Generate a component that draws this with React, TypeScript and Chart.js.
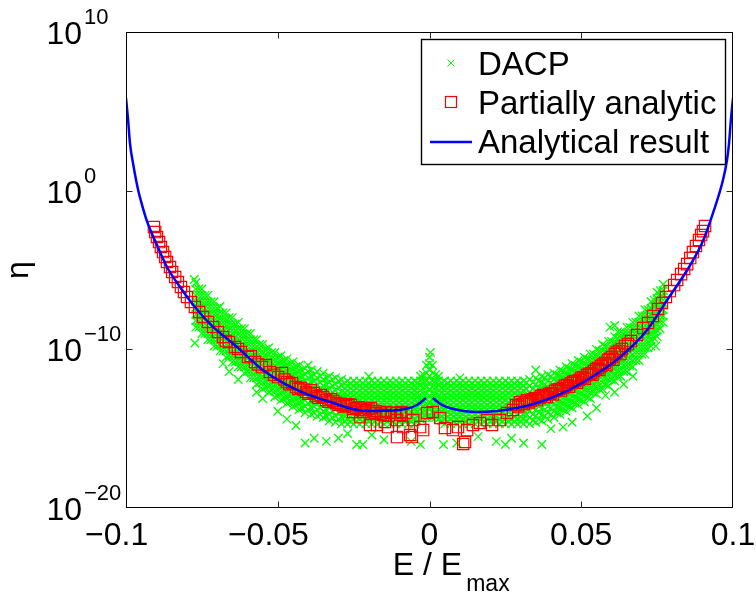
import React, { useEffect, useRef } from "react";
import { Chart, registerables } from "chart.js";

Chart.register(...registerables);

// ---------- axis definitions ----------
const X_TICKS = [-0.1, -0.05, 0, 0.05, 0.1];
const X_TICK_LABELS = ["\u22120.1", "\u22120.05", "0", "0.05", "0.1"];
const Y_TICK_EXPONENTS = [-20, -10, 0, 10];
const X_MIN = -0.1;
const X_MAX = 0.1;
const Y_MIN = 1e-20;
const Y_MAX = 1e10;

const LEGEND_LABELS = ["DACP", "Partially analytic", "Analytical result"];

// ---------- Analytical result (x, log10 eta) ----------
const analyticLeft: [number, number][] = [
  [-0.1, 5.83], [-0.0993, 4.45], [-0.0987, 3.0], [-0.0977, 1.74], [-0.096, 0.04],
  [-0.0947, -0.91], [-0.0931, -1.92], [-0.0898, -3.43], [-0.0865, -4.81],
  [-0.0822, -6.07], [-0.0773, -7.33], [-0.0713, -8.59], [-0.0634, -9.85],
  [-0.0549, -11.3], [-0.0437, -12.56], [-0.0328, -13.32], [-0.0206, -13.89],
  [-0.0097, -13.82], [-0.0041, -13.51], [-0.0012, -13.07],
];
const analyticRight: [number, number][] = [
  [0.0011, -13.07], [0.0041, -13.5], [0.0067, -13.7], [0.0157, -13.95], [0.0288, -13.7],
  [0.0407, -13.01], [0.0519, -11.93], [0.0628, -10.49], [0.0717, -8.78],
  [0.0783, -6.89], [0.0849, -5.0], [0.0898, -3.3], [0.0934, -1.41], [0.0967, 0.67],
  [0.098, 1.9], [0.0987, 3.0], [0.0993, 4.45], [0.1, 5.83],
];

// ---------- Partially analytic (x, log10 eta) ----------
const partialPoints: [number, number][] = [
  [-0.0908, -2.29], [-0.0904, -2.61], [-0.0898, -2.92], [-0.0891, -3.24], [-0.0885, -3.55],
  [-0.0878, -3.87], [-0.0871, -4.18], [-0.0865, -4.5], [-0.0855, -4.81], [-0.0848, -5.13],
  [-0.0838, -5.44], [-0.0829, -5.76], [-0.0819, -6.07], [-0.0809, -6.39], [-0.0799, -6.7],
  [-0.0786, -7.02], [-0.0773, -7.33], [-0.0759, -7.65], [-0.0746, -7.96], [-0.073, -8.28],
  [-0.0713, -8.59], [-0.0697, -8.91], [-0.068, -9.22], [-0.0671, -9.48], [-0.0661, -9.54],
  [-0.0641, -9.85], [-0.0631, -9.98], [-0.0621, -10.17], [-0.0598, -10.49], [-0.0589, -10.42],
  [-0.0575, -10.8], [-0.0565, -10.95], [-0.0552, -11.12], [-0.0539, -10.99], [-0.0526, -11.43],
  [-0.0512, -11.6], [-0.0499, -11.75], [-0.0486, -11.49], [-0.0478, -11.9], [-0.047, -12.06],
  [-0.0462, -12.2], [-0.0453, -12.12], [-0.044, -12.38], [-0.0432, -12.5], [-0.0424, -12.44],
  [-0.0415, -12.55], [-0.0407, -12.69], [-0.0399, -12.8], [-0.0391, -12.56], [-0.0382, -12.75],
  [-0.0374, -12.94], [-0.0366, -13.05], [-0.0358, -12.88], [-0.035, -13.0], [-0.0341, -13.19],
  [-0.0333, -13.3], [-0.0325, -13.13], [-0.0317, -13.25], [-0.0308, -13.38], [-0.03, -13.5],
  [-0.0292, -13.45], [-0.0283, -13.6], [-0.0275, -13.57], [-0.0267, -13.45], [-0.0259, -13.51],
  [-0.025, -13.75], [-0.0242, -13.7], [-0.0234, -13.65], [-0.0226, -13.82], [-0.0218, -13.95],
  [-0.0209, -13.82], [-0.0201, -13.75], [-0.0193, -13.7], [-0.0185, -13.9], [-0.0176, -13.89],
  [-0.016, -14.05], [-0.0143, -13.95], [-0.0127, -14.0], [-0.011, -14.01], [-0.0093, -13.95],
  [-0.0077, -14.01],
  [-0.0252, -13.95], [-0.0229, -14.27], [-0.0196, -14.77], [-0.018, -14.01], [-0.0173, -14.77],
  [-0.0153, -14.14], [-0.0147, -14.58], [-0.0137, -14.9], [-0.0107, -14.46], [-0.0107, -15.53],
  [-0.0097, -14.14], [-0.0087, -14.9], [-0.0064, -15.4], [-0.0058, -15.53], [-0.0054, -14.46],
  [-0.0031, -14.9], [-0.0021, -15.09], [-0.0008, -14.01], [0.0011, -13.95], [0.0035, -14.33],
  [0.0051, -14.96], [0.0077, -15.09], [0.0094, -14.9], [0.0111, -15.97], [0.0117, -15.84],
  [0.0124, -15.09], [0.0143, -14.77], [0.0166, -14.64], [0.019, -14.46], [0.0206, -14.77],
  [0.0232, -14.46], [0.0255, -14.01], [0.0275, -13.82],
  [0.0285, -13.51], [0.0292, -13.6], [0.0298, -13.32], [0.0305, -13.45], [0.0311, -13.45],
  [0.0316, -13.3], [0.0321, -13.19], [0.0328, -13.35], [0.0334, -13.26], [0.0341, -13.15],
  [0.0348, -13.07], [0.0354, -13.2], [0.0361, -13.07], [0.0368, -12.95], [0.0374, -12.88],
  [0.038, -13.0], [0.0387, -13.01], [0.0394, -12.8], [0.04, -12.75], [0.0407, -12.85],
  [0.0414, -12.63], [0.042, -12.55], [0.0427, -12.5], [0.0433, -12.6], [0.044, -12.44],
  [0.0446, -12.3], [0.0453, -12.25], [0.046, -12.35], [0.0466, -12.12], [0.0473, -12.05],
  [0.0479, -12.0], [0.0486, -12.1], [0.0493, -11.93], [0.05, -11.8], [0.0506, -11.75],
  [0.0512, -11.85], [0.0519, -11.62], [0.0526, -11.55], [0.0532, -11.49], [0.0537, -11.6],
  [0.0542, -11.37], [0.0549, -11.25], [0.0555, -11.18], [0.056, -11.3], [0.0565, -11.05],
  [0.0571, -10.95], [0.0578, -10.86], [0.0583, -11.0], [0.0588, -10.67], [0.0594, -10.6],
  [0.0601, -10.49], [0.0606, -10.65], [0.0611, -10.3], [0.0617, -10.2], [0.0624, -10.11],
  [0.0629, -10.3], [0.0634, -9.98], [0.0644, -9.79],
  [0.0654, -9.67], [0.0664, -9.48], [0.0684, -9.1], [0.0704, -8.66], [0.072, -8.34],
  [0.0736, -7.9], [0.0753, -7.46], [0.0766, -7.08], [0.0779, -6.7], [0.0792, -6.33],
  [0.0806, -5.95], [0.0816, -5.63], [0.0829, -5.26], [0.0839, -4.94], [0.0849, -4.63],
  [0.0859, -4.25], [0.0868, -3.87], [0.0878, -3.49], [0.0888, -3.11], [0.0895, -2.8],
  [0.0901, -2.55], [0.0908, -2.23],
];

// ---------- DACP: columns [x, log10 eta values read in that column] ----------
const CA = [-12.0, -12.3, -12.6, -12.9, -13.2, -13.5, -13.8, -14.1, -14.4, -14.7];
const CB = [-12.15, -12.45, -12.75, -13.05, -13.35, -13.65, -13.95, -14.25, -14.55];
const dacpColumns: [number, number[]][] = [
  [-0.077, [-5.8, -6.2, -6.6, -7.0, -7.4, -7.8, -8.2, -8.6]],
  [-0.076, [-6.2, -6.6, -7.0, -7.4, -7.8, -8.2, -8.6]],
  [-0.075, [-6.2, -6.6, -7.0, -7.4, -7.8, -8.2, -8.6, -9.0]],
  [-0.074, [-6.6, -7.0, -7.4, -7.8, -8.2, -8.6, -9.0]],
  [-0.073, [-6.6, -7.0, -7.4, -7.8, -8.2, -8.6, -9.0, -9.4]],
  [-0.072, [-7.0, -7.4, -7.8, -8.2, -8.6, -9.0, -9.4]],
  [-0.071, [-7.0, -7.4, -7.8, -8.2, -8.6, -9.0, -9.4, -9.8]],
  [-0.07, [-7.4, -7.8, -8.2, -8.6, -9.0, -9.4, -9.8]],
  [-0.069, [-7.3, -7.7, -8.1, -8.5, -8.9, -9.3, -9.7, -10.1]],
  [-0.068, [-7.7, -8.1, -8.5, -8.9, -9.3, -9.7, -10.1]],
  [-0.067, [-7.7, -8.1, -8.5, -8.9, -9.3, -9.7, -10.1, -10.5]],
  [-0.066, [-8.0, -8.4, -8.8, -9.2, -9.6, -10.0, -10.4]],
  [-0.065, [-8.0, -8.4, -8.8, -9.2, -9.6, -10.0, -10.4, -10.8]],
  [-0.064, [-8.4, -8.8, -9.2, -9.6, -10.0, -10.4, -10.8]],
  [-0.063, [-8.3, -8.7, -9.1, -9.5, -9.9, -10.3, -10.7, -11.1]],
  [-0.062, [-8.7, -9.1, -9.5, -9.9, -10.3, -10.7, -11.1]],
  [-0.061, [-8.7, -9.1, -9.5, -9.9, -10.3, -10.7, -11.1, -11.5]],
  [-0.06, [-9.0, -9.4, -9.8, -10.2, -10.6, -11.0, -11.4]],
  [-0.059, [-9.0, -9.4, -9.8, -10.2, -10.6, -11.0, -11.4, -11.8]],
  [-0.058, [-9.4, -9.8, -10.2, -10.6, -11.0, -11.4, -11.8]],
  [-0.057, [-9.4, -9.8, -10.2, -10.6, -11.0, -11.4, -11.8, -12.2]],
  [-0.056, [-9.7, -10.1, -10.5, -10.9, -11.3, -11.7, -12.1]],
  [-0.055, [-9.7, -10.1, -10.5, -10.9, -11.3, -11.7, -12.1, -12.5]],
  [-0.054, [-10.0, -10.4, -10.8, -11.2, -11.6, -12.0, -12.4]],
  [-0.053, [-9.9, -10.3, -10.7, -11.1, -11.5, -11.9, -12.3, -12.7]],
  [-0.052, [-10.2, -10.6, -11.0, -11.4, -11.8, -12.2, -12.6]],
  [-0.051, [-10.2, -10.6, -11.0, -11.4, -11.8, -12.2, -12.6, -13.0]],
  [-0.05, [-10.5, -10.9, -11.3, -11.7, -12.1, -12.5, -12.9]],
  [-0.049, [-10.4, -10.8, -11.2, -11.6, -12.0, -12.4, -12.8, -13.2]],
  [-0.048, [-10.7, -11.1, -11.5, -11.9, -12.3, -12.7, -13.1]],
  [-0.047, [-10.6, -11.0, -11.4, -11.8, -12.2, -12.6, -13.0, -13.4]],
  [-0.046, [-10.9, -11.3, -11.7, -12.1, -12.5, -12.9, -13.3]],
  [-0.045, [-10.8, -11.2, -11.6, -12.0, -12.4, -12.8, -13.2, -13.6]],
  [-0.044, [-11.1, -11.5, -11.9, -12.3, -12.7, -13.1, -13.5]],
  [-0.043, [-11.0, -11.4, -11.8, -12.2, -12.6, -13.0, -13.4, -13.8]],
  [-0.042, [-11.3, -11.7, -12.1, -12.5, -12.9, -13.3, -13.7]],
  [-0.041, [-11.2, -11.6, -12.0, -12.4, -12.8, -13.2, -13.6, -14.0]],
  [-0.04, [-11.4, -11.8, -12.2, -12.6, -13.0, -13.4, -13.8]],
  [-0.039, [-11.3, -11.7, -12.1, -12.5, -12.9, -13.3, -13.7, -14.1]],
  [-0.038, [-11.6, -12.0, -12.4, -12.8, -13.2, -13.6, -14.0]],
  [-0.037, [-11.4, -11.8, -12.2, -12.6, -13.0, -13.4, -13.8, -14.2]],
  [-0.036, [-11.7, -12.1, -12.5, -12.9, -13.3, -13.7, -14.1]],
  [-0.035, [-11.5, -11.9, -12.3, -12.7, -13.1, -13.5, -13.9, -14.3]],
  [-0.034, [-11.8, -12.2, -12.6, -13.0, -13.4, -13.8, -14.2]],
  [-0.033, [-11.7, -12.1, -12.5, -12.9, -13.3, -13.7, -14.1, -14.5]],
  [-0.032, [-11.9, -12.3, -12.7, -13.1, -13.5, -13.9, -14.3]],
  [-0.031, [-11.8, -12.2, -12.6, -13.0, -13.4, -13.8, -14.2, -14.6]],
  [-0.03, [-12.0, -12.4, -12.8, -13.2, -13.6, -14.0, -14.4]],
  [-0.029, [-11.9, -12.3, -12.7, -13.1, -13.5, -13.9, -14.3, -14.7]],
  [-0.028, CB], [-0.027, CA], [-0.026, CB], [-0.025, CA], [-0.024, CB], [-0.023, CA],
  [-0.022, CB], [-0.021, CA], [-0.02, CB], [-0.019, CA], [-0.018, CB], [-0.017, CA],
  [-0.016, CB], [-0.015, CA], [-0.014, CB], [-0.013, CA], [-0.012, CB], [-0.011, CA],
  [-0.01, CB], [-0.009, CA], [-0.008, CB], [-0.007, CA], [-0.006, CB], [-0.005, CA],
  [-0.004, [-12.1, -12.4, -12.7, -13.0, -13.3, -13.6, -13.9, -14.2, -14.5]],
  [-0.003, [-11.7, -12.0, -12.3, -12.6, -12.9, -13.2, -13.5, -13.8, -14.1, -14.4]],
  [-0.002, [-11.6, -12.0, -12.4, -12.8, -13.2, -13.6, -14.0, -14.3]],
  [-0.001, [-11.0, -11.5, -12.0, -12.4, -12.8, -13.2, -13.6, -14.0, -14.3]],
  [0, [-10.5, -10.9, -11.3, -11.7, -12.1, -12.5, -12.9, -13.3, -13.7, -14.1]],
  [0.001, [-11.0, -11.5, -12.0, -12.4, -12.8, -13.2, -13.6, -14.0, -14.3]],
  [0.002, [-11.6, -12.0, -12.4, -12.8, -13.2, -13.6, -14.0, -14.3]],
  [0.003, [-11.7, -12.0, -12.3, -12.6, -12.9, -13.2, -13.5, -13.8, -14.1, -14.4]],
  [0.004, [-12.1, -12.4, -12.7, -13.0, -13.3, -13.6, -13.9, -14.2, -14.5]],
  [0.005, CA], [0.006, CB], [0.007, CA], [0.008, CB], [0.009, CA], [0.01, CB],
  [0.011, CA], [0.012, CB], [0.013, CA], [0.014, CB], [0.015, CA], [0.016, CB],
  [0.017, CA], [0.018, CB], [0.019, CA], [0.02, CB], [0.021, CA], [0.022, CB],
  [0.023, CA], [0.024, CB], [0.025, CA], [0.026, CB], [0.027, CA], [0.028, CB],
  [0.029, CA], [0.03, CB], [0.031, CA],
  [0.032, [-12.1, -12.5, -12.9, -13.3, -13.7, -14.1, -14.5]],
  [0.033, [-11.9, -12.3, -12.7, -13.1, -13.5, -13.9, -14.3, -14.7]],
  [0.034, [-12.1, -12.5, -12.9, -13.3, -13.7, -14.1, -14.5]],
  [0.035, [-11.8, -12.2, -12.6, -13.0, -13.4, -13.8, -14.2, -14.6]],
  [0.036, [-12.0, -12.4, -12.8, -13.2, -13.6, -14.0, -14.4]],
  [0.037, [-11.7, -12.1, -12.5, -12.9, -13.3, -13.7, -14.1, -14.5]],
  [0.038, [-11.8, -12.2, -12.6, -13.0, -13.4, -13.8, -14.2]],
  [0.039, [-11.6, -12.0, -12.4, -12.8, -13.2, -13.6, -14.0, -14.4]],
  [0.04, [-11.7, -12.1, -12.5, -12.9, -13.3, -13.7, -14.1]],
  [0.041, [-11.5, -11.9, -12.3, -12.7, -13.1, -13.5, -13.9, -14.3]],
  [0.042, [-11.6, -12.0, -12.4, -12.8, -13.2, -13.6, -14.0]],
  [0.043, [-11.3, -11.7, -12.1, -12.5, -12.9, -13.3, -13.7, -14.1]],
  [0.044, [-11.4, -11.8, -12.2, -12.6, -13.0, -13.4, -13.8]],
  [0.045, [-11.1, -11.5, -11.9, -12.3, -12.7, -13.1, -13.5, -13.9]],
  [0.046, [-11.2, -11.6, -12.0, -12.4, -12.8, -13.2, -13.6]],
  [0.047, [-10.9, -11.3, -11.7, -12.1, -12.5, -12.9, -13.3, -13.7]],
  [0.048, [-11.0, -11.4, -11.8, -12.2, -12.6, -13.0, -13.4]],
  [0.049, [-10.7, -11.1, -11.5, -11.9, -12.3, -12.7, -13.1, -13.5]],
  [0.05, [-10.8, -11.2, -11.6, -12.0, -12.4, -12.8, -13.2]],
  [0.051, [-10.5, -10.9, -11.3, -11.7, -12.1, -12.5, -12.9, -13.3]],
  [0.052, [-10.6, -11.0, -11.4, -11.8, -12.2, -12.6, -13.0]],
  [0.053, [-10.3, -10.7, -11.1, -11.5, -11.9, -12.3, -12.7, -13.1]],
  [0.054, [-10.3, -10.7, -11.1, -11.5, -11.9, -12.3, -12.7]],
  [0.055, [-10.0, -10.4, -10.8, -11.2, -11.6, -12.0, -12.4, -12.8]],
  [0.056, [-10.1, -10.5, -10.9, -11.3, -11.7, -12.1, -12.5]],
  [0.057, [-9.7, -10.1, -10.5, -10.9, -11.3, -11.7, -12.1, -12.5]],
  [0.058, [-9.8, -10.2, -10.6, -11.0, -11.4, -11.8, -12.2]],
  [0.059, [-9.5, -9.9, -10.3, -10.7, -11.1, -11.5, -11.9, -12.3]],
  [0.06, [-9.5, -9.9, -10.3, -10.7, -11.1, -11.5, -11.9]],
  [0.061, [-9.2, -9.6, -10.0, -10.4, -10.8, -11.2, -11.6, -12.0]],
  [0.062, [-9.3, -9.7, -10.1, -10.5, -10.9, -11.3, -11.7]],
  [0.063, [-8.9, -9.3, -9.7, -10.1, -10.5, -10.9, -11.3, -11.7]],
  [0.064, [-9.0, -9.4, -9.8, -10.2, -10.6, -11.0, -11.4]],
  [0.065, [-8.6, -9.0, -9.4, -9.8, -10.2, -10.6, -11.0, -11.4]],
  [0.066, [-8.6, -9.0, -9.4, -9.8, -10.2, -10.6, -11.0]],
  [0.067, [-8.3, -8.7, -9.1, -9.5, -9.9, -10.3, -10.7, -11.1]],
  [0.068, [-8.3, -8.7, -9.1, -9.5, -9.9, -10.3, -10.7]],
  [0.069, [-7.9, -8.3, -8.7, -9.1, -9.5, -9.9, -10.3, -10.7]],
  [0.07, [-7.9, -8.3, -8.7, -9.1, -9.5, -9.9, -10.3]],
  [0.071, [-7.5, -7.9, -8.3, -8.7, -9.1, -9.5, -9.9, -10.3]],
  [0.072, [-7.5, -7.9, -8.3, -8.7, -9.1, -9.5, -9.9]],
  [0.073, [-7.0, -7.4, -7.8, -8.2, -8.6, -9.0, -9.4, -9.8]],
  [0.074, [-6.9, -7.3, -7.7, -8.1, -8.5, -8.9, -9.3]],
  [0.075, [-6.4, -6.8, -7.2, -7.6, -8.0, -8.4, -8.8, -9.2]],
  [0.076, [-6.3, -6.7, -7.1, -7.5, -7.9, -8.3, -8.7]],
  [0.077, [-5.9, -6.3, -6.7, -7.1, -7.5, -7.9, -8.3]],
];
// scattered DACP points outside the main band
const dacpOutliers: [number, number][] = [
  [-0.0773, -9.6], [-0.068, -10.9], [-0.066, -11.4], [-0.063, -11.9], [-0.057, -12.7],
  [-0.055, -13.1], [-0.05, -13.9], [-0.047, -14.4], [-0.044, -14.8], [-0.041, -15.9],
  [-0.038, -15.6], [-0.034, -15.8], [-0.03, -15.6], [-0.027, -15.3], [-0.024, -16.0],
  [-0.022, -16.0], [-0.019, -15.4], [-0.015, -15.7], [-0.006, -15.8], [-0.003, -16.0],
  [0.0046, -16.0], [0.009, -15.9], [0.016, -15.5], [0.022, -15.8], [0.025, -16.0],
  [0.027, -15.6], [0.031, -15.9], [0.037, -16.0], [0.04, -15.0], [0.044, -14.9],
  [0.047, -14.6], [0.052, -14.2], [0.055, -13.7], [0.058, -12.9], [0.061, -12.7],
  [0.064, -12.2], [0.067, -11.7], [0.0745, -9.8],
  [-0.0775, -5.6], [-0.04, -11.0], [-0.02, -11.7], [0.01, -11.8], [0.035, -11.3],
  [0.0595, -8.6], [0.061, -8.5], [0.062, -8.9], [0.0003, -10.2],
];

const FONT = "'Liberation Sans', Arial, Helvetica, sans-serif";
const GREEN = "#00ff00";
const RED = "#ff0000";
const BLUE = "#0000ff";

const fromLog = (pairs: [number, number][]) => pairs.map(([x, l]) => ({ x, y: Math.pow(10, l) }));

const matlabPlugin = {
  id: "matlabDecor",
  afterDraw(chart: any) {
    const { ctx, chartArea: a, scales } = chart;
    const xs = scales.x;
    const ys = scales.y;
    ctx.save();

    // frame
    ctx.strokeStyle = "#000";
    ctx.lineWidth = 1;
    const L = Math.round(a.left) + 0.5;
    const T = Math.round(a.top) + 0.5;
    const R = Math.round(a.right) - 0.5;
    const B = Math.round(a.bottom) - 0.5;
    ctx.strokeRect(L, T, R - L, B - T);

    // inward ticks
    const tl = 6;
    ctx.strokeStyle = "#262626";
    ctx.beginPath();
    X_TICKS.forEach((v) => {
      const px = Math.round(xs.getPixelForValue(v)) + 0.5;
      if (px <= L + 1 || px >= R - 1) return;
      ctx.moveTo(px, B);
      ctx.lineTo(px, B - tl);
      ctx.moveTo(px, T);
      ctx.lineTo(px, T + tl);
    });
    Y_TICK_EXPONENTS.forEach((e) => {
      const py = Math.round(ys.getPixelForValue(Math.pow(10, e))) + 0.5;
      if (py <= T + 1 || py >= B - 1) return;
      ctx.moveTo(L, py);
      ctx.lineTo(L + tl, py);
      ctx.moveTo(R, py);
      ctx.lineTo(R - tl, py);
    });
    ctx.stroke();

    ctx.fillStyle = "#000";
    // x tick labels (numeric part centred, minus sign hanging to the left)
    ctx.font = `32px ${FONT}`;
    ctx.textBaseline = "alphabetic";
    X_TICKS.forEach((v, i) => {
      const px = xs.getPixelForValue(v);
      const label = X_TICK_LABELS[i];
      const num = label.replace("\u2212", "");
      const wNum = ctx.measureText(num).width;
      ctx.textAlign = "right";
      ctx.fillText(label, px + wNum / 2, a.bottom + 37);
    });

    // y tick labels: 10 with superscript exponent
    Y_TICK_EXPONENTS.forEach((e) => {
      const py = ys.getPixelForValue(Math.pow(10, e));
      ctx.font = `32px ${FONT}`;
      ctx.textAlign = "right";
      ctx.fillText("10", a.left - 44, py + 12);
      ctx.font = `22px ${FONT}`;
      ctx.textAlign = "left";
      const exp = e < 0 ? "\u2212" + String(-e) : String(e);
      ctx.fillText(exp, a.left - 42, py - 8);
    });

    // x axis title: E / E_max
    const cx = (a.left + a.right) / 2;
    ctx.font = `32px ${FONT}`;
    const base = "E / E";
    const wb = ctx.measureText(base).width;
    const x0 = cx - wb / 2 - 2;
    ctx.textAlign = "left";
    ctx.fillText(base, x0, a.bottom + 67);
    ctx.font = `23px ${FONT}`;
    ctx.fillText("max", x0 + wb + 4, a.bottom + 83);

    // y axis title: eta (rotated)
    ctx.save();
    ctx.translate(28, (a.top + a.bottom) / 2);
    ctx.rotate(-Math.PI / 2);
    ctx.font = `32px ${FONT}`;
    ctx.textAlign = "center";
    ctx.fillText("\u03b7", 0, 0);
    ctx.restore();

    // legend
    const lx = 421.5;
    const ly = 39.5;
    const lw = 304;
    const lh = 125;
    ctx.fillStyle = "#fff";
    ctx.fillRect(lx, ly, lw, lh);
    ctx.strokeStyle = "#000";
    ctx.lineWidth = 1.4;
    ctx.strokeRect(lx, ly, lw, lh);

    const mx = 451;
    const baselines = [75, 114, 153];
    ctx.font = `33px ${FONT}`;
    ctx.fillStyle = "#000";
    ctx.textAlign = "left";
    LEGEND_LABELS.forEach((t, i) => ctx.fillText(t, 478, baselines[i]));

    // DACP marker (x)
    let my = baselines[0] - 12;
    ctx.strokeStyle = GREEN;
    ctx.lineWidth = 1;
    ctx.beginPath();
    ctx.moveTo(mx - 3.5, my - 3.5);
    ctx.lineTo(mx + 3.5, my + 3.5);
    ctx.moveTo(mx + 3.5, my - 3.5);
    ctx.lineTo(mx - 3.5, my + 3.5);
    ctx.stroke();
    // Partially analytic marker (square)
    my = baselines[1] - 12;
    ctx.strokeStyle = RED;
    ctx.lineWidth = 1.2;
    ctx.strokeRect(mx - 5.5, my - 5.5, 11, 11);
    // Analytical result line
    my = baselines[2] - 11;
    ctx.strokeStyle = BLUE;
    ctx.lineWidth = 2.5;
    ctx.beginPath();
    ctx.moveTo(430, my);
    ctx.lineTo(472, my);
    ctx.stroke();

    ctx.restore();
  },
};

export default function App() {
  const canvasRef = useRef<HTMLCanvasElement | null>(null);

  useEffect(() => {
    const canvas = canvasRef.current;
    if (!canvas) return;

    const dacpData = [
      ...dacpColumns.flatMap(([x, logs]) => logs.map((l) => ({ x, y: Math.pow(10, l) }))),
      ...fromLog(dacpOutliers),
    ];
    const partialData = fromLog(partialPoints);
    const analyticData: { x: number; y: number | null }[] = [
      ...fromLog(analyticLeft),
      { x: 0, y: null },
      ...fromLog(analyticRight),
    ];

    const chart = new Chart(canvas, {
      type: "scatter",
      data: {
        datasets: [
          {
            label: LEGEND_LABELS[2],
            data: analyticData as any,
            showLine: true,
            spanGaps: false,
            borderColor: BLUE,
            backgroundColor: BLUE,
            borderWidth: 2.5,
            pointRadius: 0,
            cubicInterpolationMode: "monotone",
            order: 0,
          },
          {
            label: LEGEND_LABELS[1],
            data: partialData,
            pointStyle: "rect",
            pointRadius: 8,
            borderColor: RED,
            backgroundColor: "rgba(0,0,0,0)",
            borderWidth: 1.2,
            order: 1,
          },
          {
            label: LEGEND_LABELS[0],
            data: dacpData,
            pointStyle: "crossRot",
            pointRadius: 6,
            borderColor: GREEN,
            backgroundColor: GREEN,
            borderWidth: 1.3,
            order: 2,
          },
        ],
      },
      options: {
        animation: false,
        responsive: false,
        events: [],
        layout: { padding: { left: 126, top: 32, right: 23, bottom: 89 } },
        plugins: {
          legend: { display: false },
          tooltip: { enabled: false },
          title: { display: false },
        },
        scales: {
          x: { type: "linear", min: X_MIN, max: X_MAX, display: false },
          y: { type: "logarithmic", min: Y_MIN, max: Y_MAX, display: false },
        },
      },
      plugins: [matlabPlugin],
    });

    return () => chart.destroy();
  }, []);

  return (
    <div style={{ position: "absolute", left: 0, top: 0, width: 756, height: 597, background: "#fff" }}>
      <canvas ref={canvasRef} width={756} height={597} style={{ display: "block" }} />
    </div>
  );
}
